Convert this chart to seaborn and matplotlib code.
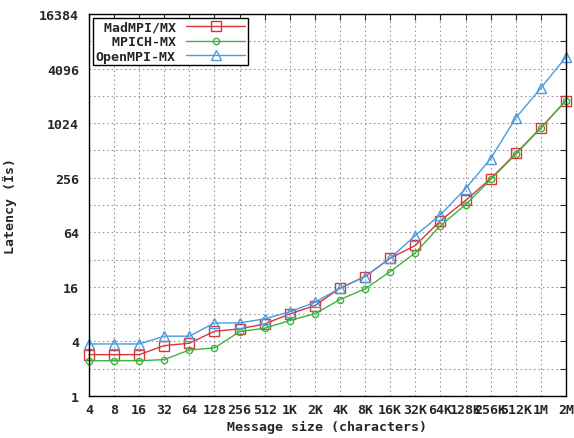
import numpy as np
import pandas as pd
import matplotlib
matplotlib.use("Agg")
import matplotlib.pyplot as plt
import seaborn as sns
from matplotlib.ticker import FixedLocator, NullFormatter

sizes = ['4', '8', '16', '32', '64', '128', '256', '512', '1K', '2K', '4K', '8K',
         '16K', '32K', '64K', '128K', '256K', '512K', '1M', '2M']

madmpi = [2.86, 2.86, 2.86, 3.6, 3.82, 5.18, 5.5, 6.24, 8.05, 9.95, 15.5, 20.8,
          33.2, 45.8, 86, 144, 250, 475, 910, 1820]
mpich = [2.45, 2.45, 2.45, 2.52, 3.22, 3.39, 5.13, 5.6, 6.8, 8.1, 11.6, 15.2,
         23.6, 38, 76, 129, 245, 465, 905, 1815]
openmpi = [3.75, 3.75, 3.75, 4.57, 4.57, 6.4, 6.4, 7.1, 8.5, 10.8, 15.5, 20.8,
           33.2, 59, 100, 194, 415, 1168, 2500, 5500]

series = {
    ' MadMPI/MX': (madmpi, '#d93636', 's', 6.5),
    '  MPICH-MX': (mpich, '#3cb43c', 'o', 4.5),
    'OpenMPI-MX': (openmpi, '#4a9be0', '^', 7),
}

sns.set_style("white")
plt.rcParams['font.family'] = ['DejaVu Sans Mono']
plt.rcParams['font.weight'] = 'bold'
fs = 9.5

fig = plt.figure(figsize=(5.74, 4.39), dpi=100)
ax = fig.add_axes([0.155, 0.0957, 0.831, 0.87])

xpos = np.arange(len(sizes))
for name, (vals, color, mk, ms) in series.items():
    df = pd.DataFrame({'x': xpos, 'y': vals})
    sns.lineplot(data=df, x='x', y='y', ax=ax, color=color, marker=mk,
                 markersize=ms, markerfacecolor='none', markeredgecolor=color,
                 markeredgewidth=1.0, linewidth=1.0, label=name, clip_on=False)

ax.set_yscale('log', base=2)
ax.set_ylim(1, 16384)
ax.set_xlim(0, len(sizes) - 1)

yt = [4 ** k for k in range(8)]
ax.yaxis.set_major_locator(FixedLocator(yt))
ax.set_yticklabels([str(v) for v in yt])
ax.yaxis.set_minor_locator(FixedLocator([2 ** (2 * k + 1) for k in range(7)]))
ax.yaxis.set_minor_formatter(NullFormatter())
ax.set_xticks(xpos)
ax.set_xticklabels(sizes)

ax.grid(True, which='both', color='#999999', linestyle=(0, (1.5, 2.5)), linewidth=0.8)
ax.tick_params(axis='both', which='both', direction='in', top=True, right=True,
               labelsize=fs, length=4, width=0.8, pad=7)
ax.tick_params(axis='x', pad=5)
for s in ax.spines.values():
    s.set_color('black')
    s.set_linewidth(1.0)

ax.set_xlabel('Message size (characters)', fontsize=fs, fontweight='bold', labelpad=3)
ax.set_ylabel('Latency (Ïs)', fontsize=fs, fontweight='bold')
ax.yaxis.set_label_coords(-0.15, 0.5)

leg = ax.legend(loc='upper left', markerfirst=False, frameon=True, fancybox=False,
                edgecolor='black', framealpha=1, fontsize=fs, handlelength=4.5,
                borderaxespad=0.3, labelspacing=0.12, borderpad=0.2)
leg.get_frame().set_linewidth(1.0)

fig.savefig('out.png', dpi=100)
